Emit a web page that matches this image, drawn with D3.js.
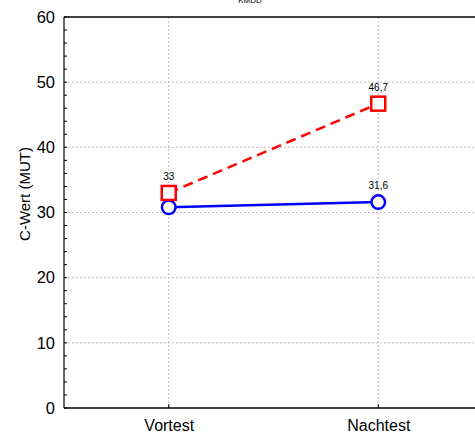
<!DOCTYPE html>
<html><head><meta charset="utf-8">
<script src="https://cdn.jsdelivr.net/npm/d3@7"></script>
<style>body{margin:0;background:#fff;}svg{display:block;}</style>
</head><body>
<svg id="c" width="475" height="435"></svg>
<script>
const categories = ["Vortest", "Nachtest"];
const seriesBlue = [30.8, 31.6];
const seriesRed = [33, 46.7];
const blueLabels = [null, "31,6"];
const redLabels = ["33", "46,7"];
const yTicks = [0, 10, 20, 30, 40, 50, 60];
const title = "KMDD";
const yTitle = "C-Wert (MUT)";

const svg = d3.select("#c");
const L = 64, R = 483, T = 17, B = 408;
const x = d3.scalePoint().domain(categories).range([L, R]).padding(0.5);
const y = d3.scaleLinear().domain([0, 60]).range([B, T]);
const font = "Liberation Sans, Arial, sans-serif";

// grid
svg.append("g").selectAll("line").data(yTicks.filter(d => d > 0 && d < 60)).join("line")
  .attr("x1", L).attr("x2", 475).attr("y1", d => y(d)).attr("y2", d => y(d))
  .attr("stroke", "#bdbdbd").attr("stroke-width", 1).attr("stroke-dasharray", "2,2");
svg.append("g").selectAll("line").data(categories).join("line")
  .attr("x1", d => x(d)).attr("x2", d => x(d)).attr("y1", T).attr("y2", B)
  .attr("stroke", "#bdbdbd").attr("stroke-width", 1).attr("stroke-dasharray", "2,2");

// y axis
const yAxis = d3.axisLeft(y).tickValues(yTicks).tickSize(0).tickPadding(9);
const gy = svg.append("g").attr("transform", `translate(${L},0)`).call(yAxis);
gy.select(".domain").remove();
gy.selectAll("text").attr("font-family", font).attr("font-size", 16.5).attr("fill", "#000");
// minor ticks
svg.append("g").selectAll("line").data(d3.range(0, 61, 2)).join("line")
  .attr("x1", L).attr("x2", L + 3).attr("y1", d => y(d)).attr("y2", d => y(d))
  .attr("stroke", "#000").attr("stroke-width", 1);

// x axis
const xAxis = d3.axisBottom(x).tickSize(0).tickPadding(12);
const gx = svg.append("g").attr("transform", `translate(0,${B})`).call(xAxis);
gx.select(".domain").remove();
gx.selectAll("text").attr("font-family", font).attr("font-size", 16).attr("fill", "#000");
svg.append("g").selectAll("line").data(categories).join("line")
  .attr("x1", d => x(d)).attr("x2", d => x(d)).attr("y1", B).attr("y2", B - 4)
  .attr("stroke", "#000").attr("stroke-width", 1);

// frame
svg.append("line").attr("x1", L).attr("x2", 475).attr("y1", T).attr("y2", T).attr("stroke", "#000").attr("stroke-width", 1.6);
svg.append("line").attr("x1", L).attr("x2", 475).attr("y1", B).attr("y2", B).attr("stroke", "#000").attr("stroke-width", 1.6);
svg.append("line").attr("x1", L).attr("x2", L).attr("y1", T).attr("y2", B).attr("stroke", "#000").attr("stroke-width", 1.2);

// title (partly cropped at top edge, as in reference)
svg.append("text").attr("x", 250).attr("y", 3).attr("text-anchor", "middle")
  .attr("font-family", font).attr("font-size", 8).attr("fill", "#000").text(title);

// y title
svg.append("text").attr("transform", `translate(30,194) rotate(-90)`)
  .attr("text-anchor", "middle").attr("font-family", font).attr("font-size", 15).attr("fill", "#000").text(yTitle);

// lines
const line = d3.line().x((d, i) => x(categories[i])).y(d => y(d));
svg.append("path").datum(seriesRed).attr("d", line).attr("fill", "none")
  .attr("stroke", "#ff0000").attr("stroke-width", 2.5).attr("stroke-dasharray", "10,6");
svg.append("path").datum(seriesBlue).attr("d", line).attr("fill", "none")
  .attr("stroke", "#0000ff").attr("stroke-width", 2.5);

// markers
svg.append("g").selectAll("circle").data(seriesBlue).join("circle")
  .attr("cx", (d, i) => x(categories[i])).attr("cy", d => y(d)).attr("r", 6.8)
  .attr("fill", "#fff").attr("stroke", "#0000ff").attr("stroke-width", 2.5);
svg.append("g").selectAll("rect").data(seriesRed).join("rect")
  .attr("x", (d, i) => x(categories[i]) - 7).attr("y", d => y(d) - 7)
  .attr("width", 14).attr("height", 14)
  .attr("fill", "#fff").attr("stroke", "#ff0000").attr("stroke-width", 2.5);

// labels
function labels(vals, labs) {
  svg.append("g").selectAll("text").data(vals).join("text")
    .attr("x", (d, i) => x(categories[i])).attr("y", d => y(d) - 13)
    .attr("text-anchor", "middle").attr("font-family", font).attr("font-size", 10).attr("fill", "#000")
    .text((d, i) => labs[i] || "");
}
labels(seriesRed, redLabels);
labels(seriesBlue, blueLabels);
</script>
</body></html>
